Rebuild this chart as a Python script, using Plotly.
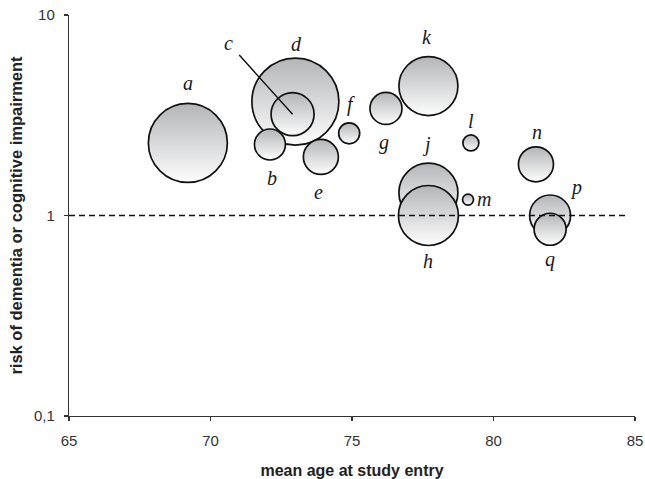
import math
import plotly.graph_objects as go

# Studies in drawing order (later ones drawn on top)
labels = ["a", "d", "c", "b", "e", "f", "g", "k", "j", "h", "l", "m", "n", "p", "q"]
mean_age = [69.2, 73.0, 72.9, 72.1, 73.9, 74.9, 76.2, 77.7, 77.7, 77.7, 79.2, 79.1, 81.5, 82.0, 82.0]
risk = [2.30, 3.70, 3.20, 2.26, 1.96, 2.57, 3.42, 4.42, 1.30, 1.00, 2.30, 1.20, 1.80, 1.00, 0.854]
bubble_size = [79, 87, 43, 31, 35, 21, 32, 59, 59, 60, 16, 11, 35, 41, 32]

# label offsets in pixels (dx right, dy up)
label_dx = [0, 1, -64, 2, -2, 2, -2, -1, -2, 0, 0, 16, 1.5, 26, 0]
label_dy = [60, 58, 71, -33, -35, 29, -34, 49, 48, -45, 22, 1, 32, 28, -30]

x_ticks = [65, 70, 75, 80, 85]
y_ticks = [0.1, 1, 10]
y_tick_text = ["0,1", "1", "10"]

fig = go.Figure()
fig.add_trace(go.Scatter(
    x=mean_age, y=risk, mode="markers",
    marker=dict(
        size=bubble_size, sizemode="diameter", sizeref=1,
        color="#b4b5b8",
        gradient=dict(type="vertical", color="#fdfdfd"),
        line=dict(color="#111111", width=1.7),
        opacity=1,
    ),
    hoverinfo="skip", showlegend=False,
))

label_font = dict(family="Liberation Serif", size=20, color="#1a1a1a")
annotations = []
for lab, xv, yv, dx, dy in zip(labels, mean_age, risk, label_dx, label_dy):
    if lab == "c":
        annotations.append(dict(
            x=xv, y=math.log10(yv), xref="x", yref="y", text="<i>" + lab + "</i>",
            showarrow=True, ax=dx, ay=-dy, arrowhead=0, arrowwidth=1.4,
            arrowcolor="#111111", startstandoff=7, font=label_font,
        ))
    else:
        annotations.append(dict(
            x=xv, y=math.log10(yv), xref="x", yref="y", text="<i>" + lab + "</i>",
            showarrow=False, xshift=dx, yshift=dy, font=label_font,
        ))

fig.update_layout(
    width=645, height=479,
    margin=dict(l=69, r=10, t=15, b=63, autoexpand=False),
    paper_bgcolor="white", plot_bgcolor="white",
    font=dict(family="Liberation Sans", color="#333333"),
    annotations=annotations,
    shapes=[dict(type="line", xref="paper", yref="y", x0=0, x1=0.985, y0=1, y1=1,
                 line=dict(color="#111111", width=1.3, dash="6px,4px"), layer="above")],
    xaxis=dict(
        range=[65, 85], tickvals=x_ticks, ticktext=[str(t) for t in x_ticks],
        showgrid=False, zeroline=False, showline=True, linecolor="#333333", linewidth=1.2,
        ticks="outside", ticklen=4, tickcolor="#333333", tickwidth=1.2,
        tickfont=dict(size=15, color="#333333"), ticklabelstandoff=7,
        ticklabeloverflow="allow", automargin=False,
        title=dict(text="<b>mean age at study entry</b>", font=dict(size=16, color="#222222"), standoff=16),
    ),
    yaxis=dict(
        type="log", range=[-1, 1], tickvals=y_ticks, ticktext=y_tick_text,
        showgrid=False, zeroline=False, showline=True, linecolor="#333333", linewidth=1.2,
        ticks="outside", ticklen=4, tickcolor="#333333", tickwidth=1.2,
        tickfont=dict(size=15, color="#333333"), ticklabelstandoff=6,
        ticklabeloverflow="allow", automargin=False,
        title=dict(text="<b>risk of dementia or cognitive impairment</b>", font=dict(size=16.5, color="#222222"), standoff=7),
    ),
)

# remove the browser's default 8px body margin so the figure fills the window
fig.write_html(
    "out.html",
    config={"displayModeBar": False, "staticPlot": True},
    post_script="document.body.style.margin='0';document.body.style.overflow='hidden';",
)
